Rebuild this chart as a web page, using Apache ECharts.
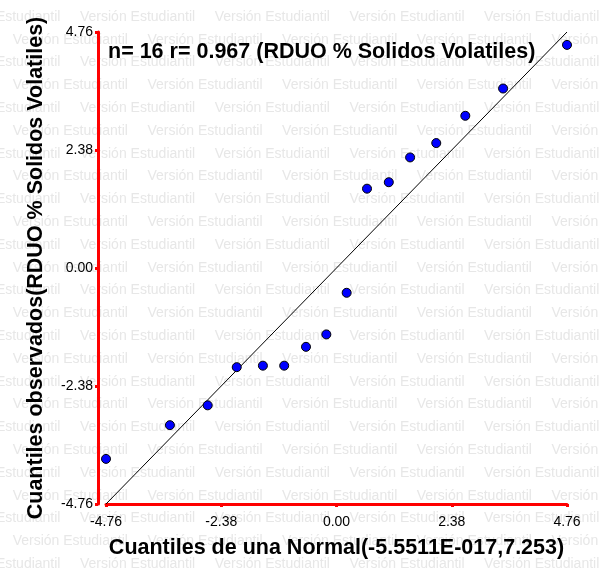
<!DOCTYPE html>
<html>
<head>
	<meta charset="utf-8">
	<title>Cuantiles</title>
	<style type="text/css">
		body{
			margin: 0px;
			background: #fff;
		}
		.chart{
			width: 603px;
			height: 576px;
		}
	</style>
	<script type="text/javascript" src="https://cdn.jsdelivr.net/npm/echarts@6/dist/echarts.min.js"></script>
</head>
<body>
	<div id="chart" class="chart"></div>
	<script type="text/javascript">
		// cuantiles teoricos (eje x) y observados (eje y)
		var quantNormal = [-4.76, -3.44, -2.66, -2.06, -1.52, -1.08, -0.63, -0.21, 0.21, 0.63, 1.08, 1.52, 2.06, 2.66, 3.44, 4.76];
		var quantObs = [-3.85, -3.17, -2.77, -2.00, -1.97, -1.97, -1.59, -1.34, -0.50, 1.60, 1.73, 2.23, 2.52, 3.07, 3.62, 4.50];
		var refLine = [-4.76, 4.76];
		var axisMin = -4.76, axisMax = 4.76, axisStep = 2.38;
		var titleText = 'n= 16 r= 0.967 (RDUO % Solidos Volatiles)';
		var xName = 'Cuantiles de una Normal(-5.5511E-017,7.253)';
		var yName = 'Cuantiles observados(RDUO % Solidos Volatiles)';

		window.onload = function(){
			var chart = echarts.init(document.getElementById('chart'));

			// marca de agua "Versión Estudiantil"
			var wm = [];
			for(var r = 0; r < 25; r++){
				var y = 17 + r * 22.8;
				var start = (r % 2 == 0) ? 80 : 12.7;
				for(var x = start - 134.7; x < 603; x += 134.7){
					wm.push({
						type: 'text',
						x: x,
						y: y,
						z: -10,
						silent: true,
						style: {
							text: 'Versión Estudiantil',
							fill: '#e7e7e7',
							font: '14px "Liberation Sans"',
							verticalAlign: 'middle'
						}
					});
				}
			}

			var fmt = function(v){
				if(Math.abs(v) < 1e-9) return '0.00';
				return v.toFixed(2);
			};

			var red = '#ff0000';
			var bold = {
				fontSize: 21.5,
				fontWeight: 'bold',
				color: '#000',
				fontFamily: 'Liberation Sans'
			};

			chart.setOption({
				backgroundColor: '#fff',
				animation: false,
				title: {
					text: titleText,
					left: 108,
					top: 41,
					padding: 0,
					textStyle: bold
				},
				graphic: wm,
				grid: {
					left: 106,
					right: 36,
					top: 32,
					bottom: 72
				},
				xAxis: {
					type: 'value',
					min: axisMin,
					max: axisMax,
					interval: axisStep,
					name: xName,
					nameLocation: 'middle',
					nameGap: 33,
					nameTextStyle: bold,
					splitLine: {show: false},
					axisLine: {onZero: false, lineStyle: {color: red, width: 3}},
					axisTick: {length: 3, lineStyle: {color: red, width: 3}},
					axisLabel: {
						margin: 11,
						color: '#000',
						fontSize: 14,
						fontFamily: 'Liberation Sans',
						showMinLabel: true,
						showMaxLabel: true,
						formatter: fmt
					}
				},
				yAxis: {
					type: 'value',
					min: axisMin,
					max: axisMax,
					interval: axisStep,
					offset: 8,
					name: yName,
					nameLocation: 'middle',
					nameGap: 51,
					nameTextStyle: bold,
					splitLine: {show: false},
					axisLine: {onZero: false, lineStyle: {color: red, width: 3}},
					axisTick: {length: 3, lineStyle: {color: red, width: 3}},
					axisLabel: {
						margin: 5,
						color: '#000',
						fontSize: 14,
						fontFamily: 'Liberation Sans',
						showMinLabel: true,
						showMaxLabel: true,
						formatter: fmt
					}
				},
				series: [{
					type: 'line',
					data: [[refLine[0], refLine[0]], [refLine[1], refLine[1]]],
					showSymbol: false,
					silent: true,
					lineStyle: {color: '#000', width: 1},
					z: 3
				}, {
					type: 'scatter',
					data: quantNormal.map(function(q, i){
						return [q, quantObs[i]];
					}),
					symbolSize: 9,
					itemStyle: {
						color: '#0000ff',
						borderColor: '#000',
						borderWidth: 1,
						opacity: 1
					},
					z: 4
				}]
			});
		}
	</script>
</body>
</html>
